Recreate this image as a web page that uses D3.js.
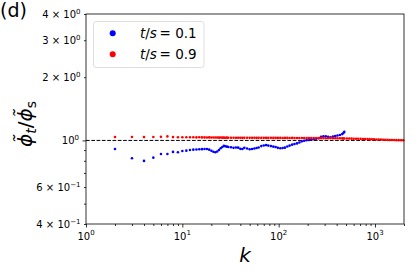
<!DOCTYPE html>
<html>
<head>
<meta charset="utf-8">
<script src="https://cdn.jsdelivr.net/npm/d3@7"></script>
<style>
  body { margin: 0; background: #fff; }
  svg text { font-family: "DejaVu Sans", sans-serif; }
</style>
</head>
<body>
<div class="chart"></div>
<script>
// data
const kBlue = [2,3,4,5,6,7,8,9,10,11,12,13,14,15,16,17,18,19,20,21,22,23,24,25,26,27,28,29,30,
  32,34,36,38,40,42,44,47,50,53,56,59,62,66,70,74,78,83,88,93,98,104,110,116,123,130,138,146,155,164,
  174,184,195,206,218,231,245,260,275,291,308,326,345,365,386,408,432,457,470,480];
const blueVals = [0.911,0.823,0.799,0.828,0.862,0.862,0.882,0.878,
  0.891,0.894,0.901,0.904,0.906,0.908,0.909,0.911,0.910,0.904,
  0.893,0.884,0.878,0.885,0.900,0.918,0.930,0.942,0.938,0.934,0.931,
  0.928,0.922,0.925,0.924,0.912,0.911,0.922,0.915,0.908,0.911,
  0.915,0.921,0.925,0.940,0.946,0.950,0.945,0.940,0.934,0.930,
  0.922,0.918,0.920,0.924,0.935,0.945,0.955,0.962,0.968,0.978,
  0.990,0.996,1.003,1.006,1.010,1.013,1.018,1.024,1.040,1.045,
  1.047,1.040,1.036,1.043,1.048,1.056,1.062,1.072,1.085,1.098];

const kRed = [2,3,4,5,6,7,8,9,10,11,12,13,14,15,16,17,18,19,20,21,22,23,24,25,26,27,28,29,30,
  32,34,36,38,40,42,44,47,50,53,56,59,62,66,70,74,78,83,88,93,98,104,110,116,123,130,138,146,155,164,
  174,184,195,206,218,231,245,260,275,291,308,326,345,365,386,408,432,457,470,480,
  510,540,570,600,635,670,710,750,790,835,880,930,980,1035,
  1090,1150,1215,1280,1350,1425,1500,1585,1670,1760,1860,1960];
const redVals = [1.038,1.038,1.037,1.038,1.040,1.045,1.037,1.036,
  1.036,1.035,1.035,1.036,1.034,1.035,1.034,1.034,1.033,1.034,
  1.033,1.033,1.032,1.032,1.031,1.032,1.031,1.031,1.030,1.031,1.030,
  1.030,1.030,1.029,1.030,1.030,1.029,1.029,1.030,1.029,1.029,
  1.029,1.028,1.029,1.028,1.029,1.028,1.028,1.029,1.028,1.028,
  1.028,1.028,1.027,1.028,1.028,1.027,1.028,1.027,1.027,1.027,
  1.027,1.027,1.026,1.027,1.026,1.026,1.027,1.026,1.026,1.026,
  1.025,1.025,1.026,1.025,1.024,1.024,1.023,1.023,1.022,1.022,
  1.021,1.021,1.020,1.019,1.019,1.018,1.017,1.016,1.016,1.015,1.014,1.013,1.012,1.011,
  1.010,1.009,1.008,1.007,1.006,1.005,1.005,1.004,1.003,1.003,1.002,1.002];

const seriesNames = ["0.1", "0.9"];
const seriesColors = ["#0000ff", "#ff0000"];

const xMajor = [1, 10, 100, 1000];
const xMajorLabels = [["10","0"], ["10","1"], ["10","2"], ["10","3"]];
const xMinor = [2,3,4,5,6,7,8,9,20,30,40,50,60,70,80,90,200,300,400,500,600,700,800,900,2000];
const yMajor = [1];
const yMinor = [0.4,0.5,0.6,0.7,0.8,0.9,2,3,4];
const yLabeled = [[4,"4","0"],[3,"3","0"],[2,"2","0"],[1,null,"0"],[0.6,"6","\u22121"],[0.4,"4","\u22121"]];

// layout
const W = 415, H = 277;
const plot = {left: 86, right: 404, top: 14, bottom: 224};

const svg = d3.select(".chart").append("svg")
  .attr("width", W).attr("height", H);

const x = d3.scaleLog().domain([1, 2000]).range([plot.left, plot.right]);
const y = d3.scaleLog().domain([0.4, 4]).range([plot.bottom, plot.top]);

// axes (ticks only; labels drawn below)
function tickAxis(axisFn, scale, values, size) {
  return axisFn(scale).tickValues(values).tickSize(size).tickFormat("");
}
const gx = svg.append("g").attr("transform", `translate(0,${plot.bottom})`);
gx.append("g").call(tickAxis(d3.axisBottom, x, xMajor, 3.5));
gx.append("g").call(tickAxis(d3.axisBottom, x, xMinor, 2));
const gy = svg.append("g").attr("transform", `translate(${plot.left},0)`);
gy.append("g").call(tickAxis(d3.axisLeft, y, yMajor, 3.5));
gy.append("g").call(tickAxis(d3.axisLeft, y, yMinor, 2));
svg.selectAll(".domain").remove();
svg.selectAll(".tick line").attr("stroke", "#000").attr("stroke-width", 0.8);

// x tick labels
xMajor.forEach((v, i) => {
  const t = svg.append("text")
    .attr("x", x(v)).attr("y", 239.5)
    .attr("text-anchor", "middle").attr("font-size", 10);
  t.append("tspan").text(xMajorLabels[i][0]);
  t.append("tspan").attr("font-size", 7).attr("dy", -4.5).text(xMajorLabels[i][1]);
});

// y tick labels
yLabeled.forEach(([v, m, e]) => {
  const len = v === 1 ? 3.5 : 2;
  const t = svg.append("text")
    .attr("x", plot.left - len - 3.5).attr("y", y(v) + 4)
    .attr("text-anchor", "end").attr("font-size", 10);
  if (m) t.append("tspan").text(m + " \u00d7 ");
  t.append("tspan").text("10");
  t.append("tspan").attr("font-size", 7).attr("dy", -4.5).text(e);
});

// reference line at 1
svg.append("line")
  .attr("x1", plot.left).attr("x2", plot.right)
  .attr("y1", y(1)).attr("y2", y(1))
  .attr("stroke", "#000").attr("stroke-width", 1)
  .attr("stroke-dasharray", "3.7,1.6");

// scatter
const blue = kBlue.map((k, i) => ({k: k, v: blueVals[i]}));
const red = kRed.map((k, i) => ({k: k, v: redVals[i]}));
[blue, red].forEach((data, s) => {
  svg.append("g").selectAll("circle").data(data).enter()
    .append("circle")
    .attr("cx", d => x(d.k))
    .attr("cy", d => y(d.v))
    .attr("r", 1.3)
    .attr("fill", seriesColors[s]);
});

// frame
svg.append("rect")
  .attr("x", plot.left).attr("y", plot.top)
  .attr("width", plot.right - plot.left).attr("height", plot.bottom - plot.top)
  .attr("fill", "none").attr("stroke", "#000").attr("stroke-width", 0.8);

// legend
const leg = svg.append("g");
leg.append("rect")
  .attr("x", 93.5).attr("y", 21.5).attr("width", 110.5).attr("height", 46)
  .attr("rx", 2.5).attr("fill", "#fff").attr("fill-opacity", 0.8)
  .attr("stroke", "#d6d6d6").attr("stroke-width", 0.8);
seriesNames.forEach((name, i) => {
  const cy = 33.3 + i * 21;
  leg.append("circle").attr("cx", 112.7).attr("cy", cy).attr("r", 3).attr("fill", seriesColors[i]);
  const t = leg.append("text").attr("x", 140).attr("y", cy + 4.6).attr("font-size", 13.5);
  t.append("tspan").attr("font-style", "italic").text("t");
  t.append("tspan").text("/");
  t.append("tspan").attr("font-style", "italic").text("s");
  t.append("tspan").text("\u2009= " + name);
});

// axis labels
svg.append("text")
  .attr("x", 245).attr("y", 261.5)
  .attr("text-anchor", "middle").attr("font-size", 20)
  .attr("font-style", "italic").text("k");

const yl = svg.append("text")
  .attr("transform", "translate(32,124) rotate(-90)")
  .attr("text-anchor", "middle").attr("font-size", 20);
yl.append("tspan").attr("font-style", "italic").text("\u03d5\u0303");
yl.append("tspan").attr("font-style", "italic").attr("font-size", 14).attr("dy", 4).text("t");
yl.append("tspan").attr("dy", -4).text("/");
yl.append("tspan").attr("font-style", "italic").text("\u03d5\u0303");
yl.append("tspan").attr("font-size", 14).attr("dy", 4).text("s");

// panel tag
svg.append("text").attr("x", 0).attr("y", 17).attr("font-size", 19).text("(d)");
</script>
</body>
</html>
